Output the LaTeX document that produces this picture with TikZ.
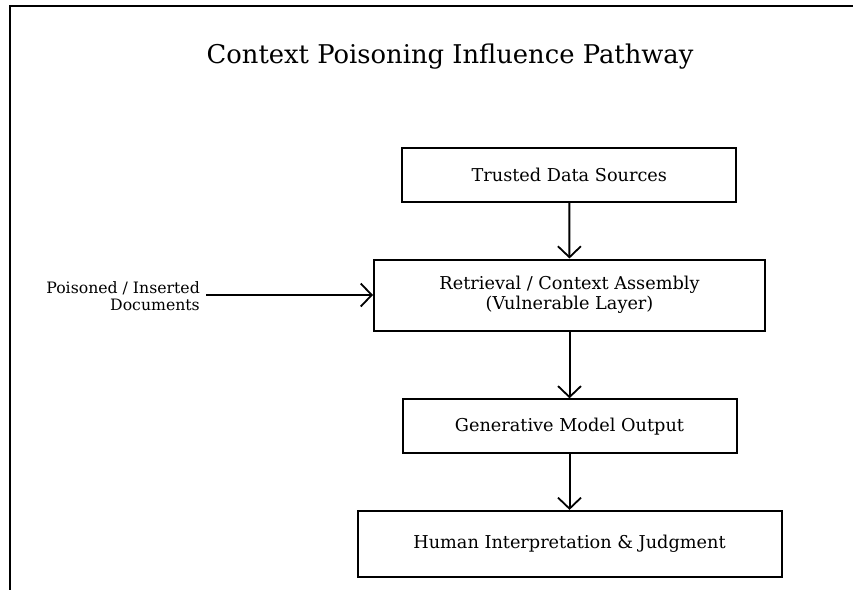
\documentclass[tikz,border=0pt]{standalone}
\usepackage{fontspec}
\setmainfont{DejaVu Serif}
\usetikzlibrary{arrows.meta}
\begin{document}
\begin{tikzpicture}[x=1pt,y=-1pt,
  box/.style={draw=black,line width=2pt,fill=white,inner sep=0pt,align=center,font=\fontsize{17.7}{20}\selectfont},
  flow/.style={draw=black,line width=2pt,-{Straight Barb[length=11pt,width=23pt,line width=1.8pt]}},
  frameline/.style={draw=black,line width=2pt}]
\useasboundingbox (0,0) rectangle (853,589);
\draw[frameline] (9.5,600) -- (9.5,6) -- (870,6);
\node (title) at (450,57) {\fontsize{25.8}{30}\selectfont Context Poisoning Influence Pathway};
\node[box,minimum width=334pt,minimum height=54pt] (trusted) at (569.3,174.6) {Trusted Data Sources};
\node[box,minimum width=391pt,minimum height=71pt] (retrieval) at (569.5,295) {Retrieval / Context Assembly\\(Vulnerable Layer)};
\node[box,minimum width=334pt,minimum height=54pt] (gen) at (569.5,426.3) {Generative Model Output};
\node[box,minimum width=424pt,minimum height=66pt] (human) at (569.5,543.9) {Human Interpretation \& Judgment};
\node[anchor=east,align=right,inner sep=0pt,font=\fontsize{15.7}{17}\selectfont] (poison) at (200,296) {Poisoned / Inserted\\Documents};
\coordinate (pstart) at (206,295);
\draw[flow] (trusted) -- (retrieval);
\draw[flow] (retrieval) -- (gen);
\draw[flow] (gen) -- (human);
\draw[flow] (pstart) -- (retrieval.west |- pstart);
\end{tikzpicture}
\end{document}
